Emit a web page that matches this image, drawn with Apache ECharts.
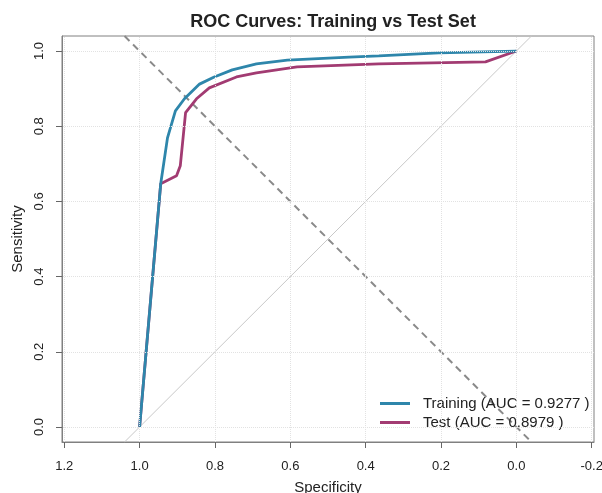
<!DOCTYPE html>
<html>
<head>
<meta charset="utf-8">
<script src="https://cdn.jsdelivr.net/npm/echarts@6/dist/echarts.min.js"></script>
<style>
  html, body { margin: 0; padding: 0; background: #fff; }
  #main { width: 602px; height: 493px; }
</style>
</head>
<body>
<div id="main"></div>
<script>
// ROC curves: x = specificity (axis reversed), y = sensitivity
const trainSpec = [1.0, 0.944, 0.926, 0.905, 0.881, 0.841, 0.802, 0.754, 0.690, 0.608, 0.444, 0.365, 0.206, 0.0];
const trainSens = [0.0, 0.647, 0.769, 0.841, 0.873, 0.912, 0.931, 0.950, 0.966, 0.976, 0.984, 0.987, 0.995, 1.0];
const testSpec = [1.0, 0.944, 0.902, 0.892, 0.878, 0.849, 0.815, 0.743, 0.690, 0.582, 0.365, 0.082, 0.0];
const testSens = [0.0, 0.647, 0.668, 0.695, 0.836, 0.873, 0.902, 0.931, 0.942, 0.958, 0.966, 0.971, 1.0];
const trainName = 'Training (AUC = 0.9277 )';
const testName = 'Test (AUC = 0.8979 )';
const xTicks = [1.2, 1.0, 0.8, 0.6, 0.4, 0.2, 0.0, -0.2];
const yTicks = [0.0, 0.2, 0.4, 0.6, 0.8, 1.0];
// chance line (spec + sens = 1) and the sens = spec line, clipped to the plot box
const chanceX = [1.04, -0.04], chanceY = [-0.04, 1.04];
const equalX = [1.04, -0.04], equalY = [1.04, -0.04];

const pairs = (xs, ys) => xs.map((x, i) => [x, ys[i]]);
const font = 'Liberation Sans, Arial, sans-serif';

var chartDom = document.getElementById('main');
var myChart = echarts.init(chartDom);
var option = {
  animation: false,
  title: {
    text: 'ROC Curves: Training vs Test Set',
    left: 328, top: 8, textAlign: 'center',
    textStyle: { fontFamily: font, fontSize: 18, fontWeight: 'bold', color: '#222' }
  },
  grid: {
    left: 62, right: 8, top: 36, bottom: 51,
    outerBoundsMode: 'none', containLabel: false,
    show: true, borderColor: '#808080', borderWidth: 1
  },
  legend: {
    orient: 'vertical', left: 375, top: 391, itemGap: 4,
    itemWidth: 30, itemHeight: 3, icon: 'rect',
    data: [trainName, testName],
    textStyle: { fontFamily: font, fontSize: 15, color: '#222', padding: [0, 0, 0, 8] }
  },
  xAxis: {
    type: 'value', inverse: true, min: -0.206, max: 1.206,
    name: 'Specificity', nameLocation: 'middle', nameGap: 38,
    nameTextStyle: { fontFamily: font, fontSize: 15, color: '#222' },
    axisLine: { show: true, onZero: false, lineStyle: { color: '#808080', width: 1 } },
    axisTick: { show: true, inside: false, customValues: xTicks, length: 6, lineStyle: { color: '#666' } },
    axisLabel: { customValues: xTicks, margin: 18, formatter: v => v.toFixed(1),
                 fontFamily: font, fontSize: 13, color: '#222' },
    splitLine: { show: false }
  },
  yAxis: {
    type: 'value', min: -0.04, max: 1.04,
    name: 'Sensitivity', nameLocation: 'middle', nameGap: 36,
    nameTextStyle: { fontFamily: font, fontSize: 15, color: '#222' },
    axisLine: { show: true, onZero: false, lineStyle: { color: '#808080', width: 1 } },
    axisTick: { show: true, inside: false, customValues: yTicks, length: 6, lineStyle: { color: '#666' } },
    axisLabel: { customValues: yTicks, margin: 16, rotate: 90, formatter: v => v.toFixed(1),
                 fontFamily: font, fontSize: 13, color: '#222' },
    splitLine: { show: false }
  },
  series: [
    {
      name: 'chance', type: 'line', data: pairs(chanceX, chanceY),
      showSymbol: false, silent: true, z: 1,
      lineStyle: { color: '#c8c8c8', width: 1 },
      markLine: {
        silent: true, symbol: 'none', label: { show: false },
        lineStyle: { color: '#e2e2e2', type: 'dotted', width: 1 },
        data: xTicks.map(v => ({ xAxis: v })).concat(yTicks.map(v => ({ yAxis: v })))
      }
    },
    {
      name: 'equal', type: 'line', data: pairs(equalX, equalY),
      showSymbol: false, silent: true, z: 2,
      lineStyle: { color: '#8a8a8a', width: 2, type: [7, 5] }
    },
    {
      name: trainName, type: 'line', data: pairs(trainSpec, trainSens),
      showSymbol: false, z: 4, color: '#2E86AB',
      lineStyle: { color: '#2E86AB', width: 2.8 }
    },
    {
      name: testName, type: 'line', data: pairs(testSpec, testSens),
      showSymbol: false, z: 3, color: '#A23B72',
      lineStyle: { color: '#A23B72', width: 2.8 }
    }
  ]
};
option && myChart.setOption(option);
</script>
</body>
</html>
